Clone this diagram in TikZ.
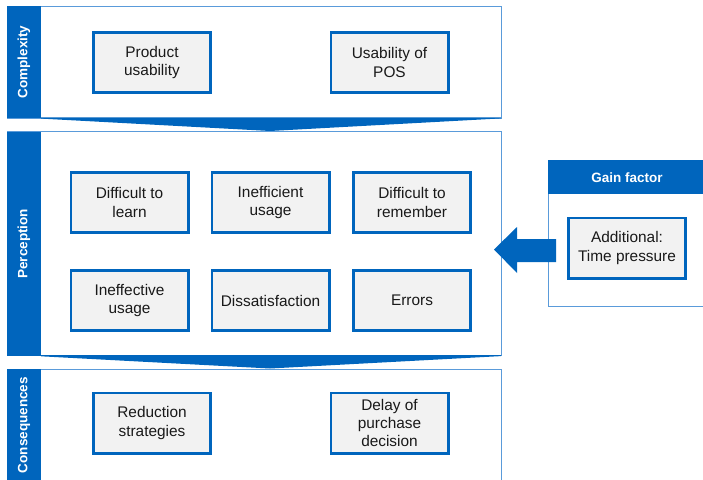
\documentclass[tikz,border=0pt]{standalone}
\usepackage{fontspec}
\setmainfont{Liberation Sans}
\definecolor{bl}{RGB}{0,101,189}
\definecolor{pl}{RGB}{90,155,218}
\definecolor{bx}{RGB}{242,242,242}
\begin{document}
\begin{tikzpicture}[x=1pt,y=-1pt,
 panel/.style={draw=pl, line width=0.8pt, fill=white},
 sidebar/.style={fill=bl},
 sidelabel/.style={text=white, font=\fontsize{13.5}{16}\selectfont\bfseries, rotate=90, inner sep=0pt},
 itembox/.style={draw=bl, line width=2.6pt, fill=bx, minimum width=117.4pt, minimum height=60.4pt, inner sep=0pt, align=center, font=\fontsize{15.4}{18.3}\selectfont, text=black!90},
 chev/.style={fill=bl},
 headlabel/.style={text=white, font=\fontsize{13.5}{16}\selectfont\bfseries, inner sep=0pt}]
\useasboundingbox (0,0) rectangle (703,479);
\clip (0,0) rectangle (703,479);

% Complexity
\draw[panel] (7,6) rectangle (501,118);
\fill[sidebar] (7,6) rectangle (41,118);
\node[sidelabel] (lc) at (24,62) {Complexity};
\node[itembox] (pu) at (152,62.5) {Product\\usability};
\node[itembox] (up) at (389.5,62.5) {Usability of\\POS};
\fill[chev] (41,117.4) -- (501,117.4) -- (501,118.4) -- (270,131) -- (41,118.6) -- cycle;

% Perception
\draw[panel] (7,131.7) rectangle (501,355.7);
\fill[sidebar] (7,131.7) rectangle (41,355.7);
\node[sidelabel] (lp) at (24,243.7) {Perception};
\node[itembox] (dl) at (129.5,202.5) {Difficult to\\learn};
\node[itembox] (iu) at (270.5,202.5) {Inefficient\\usage};
\node[itembox] (dr) at (412,202.5) {Difficult to\\remember};
\node[itembox] (ie) at (129.5,300.5) {Ineffective\\usage};
\node[itembox] (ds) at (270.5,300.5) {Dissatisfaction};
\node[itembox] (er) at (412,300.5) {Errors};
\fill[chev] (41,355.1) -- (501,355.1) -- (501,356.1) -- (270,368.5) -- (41,356.3) -- cycle;

% Consequences
\draw[panel] (7,369) rectangle (501,482);
\fill[sidebar] (7,369) rectangle (41,482);
\node[sidelabel] (lq) at (24,425) {Consequences};
\node[itembox] (rs) at (152,423) {Reduction\\strategies};
\node[itembox] (dp) at (389.5,423) {Delay of\\purchase\\decision};

% Gain factor
\draw[panel] (548,160) rectangle (706,306);
\fill[sidebar] (548,160) rectangle (706,194);
\node[headlabel] (gf) at (627,177.5) {Gain factor};
\node[itembox] (at) at (627,248) {Additional:\\Time pressure};

% block arrow
\fill[bl] (494,249.5) -- (517,227) -- (517,239) -- (556,239) -- (556,262) -- (517,262) -- (517,273) -- cycle;
\end{tikzpicture}
\end{document}
